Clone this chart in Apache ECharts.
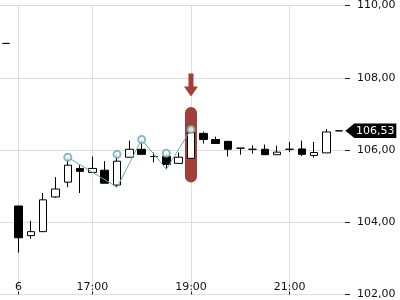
<!DOCTYPE html>
<html>
<head>
<meta charset="utf-8">
<script src="https://cdn.jsdelivr.net/npm/echarts@6/dist/echarts.min.js"></script>
<style>html,body{margin:0;padding:0;background:#fff}#c{width:400px;height:300px}</style>
</head>
<body>
<div id="c"></div>
<script>
// 15-minute bars
var categories = ['15:15','15:30','15:45','16:00','16:15','16:30','16:45','17:00','17:15','17:30','17:45','18:00','18:15','18:30','18:45','19:00','19:15','19:30','19:45','20:00','20:15','20:30','20:45','21:00','21:15','21:30','21:45','22:00'];
var opens  = [108.95,104.45,103.63,103.74,104.70,105.11,105.49,105.38,105.44,105.03,105.80,106.02,105.82,105.82,105.63,105.77,106.46,106.29,106.24,106.05,106.02,106.02,105.87,106.02,106.03,105.85,105.92,106.53];
var closes = [108.95,103.57,103.74,104.62,104.92,105.58,105.41,105.49,105.08,105.69,106.02,105.88,105.82,105.60,105.80,106.48,106.29,106.18,106.02,106.05,106.02,105.87,105.94,106.02,105.88,105.93,106.50,106.53];
var lows   = [108.95,103.16,103.54,103.74,104.67,104.97,104.81,105.38,105.08,104.97,105.80,105.88,105.66,105.47,105.63,105.77,106.18,106.18,105.82,105.87,105.90,105.87,105.87,105.94,105.83,105.79,105.92,106.53];
var highs  = [108.95,104.45,104.04,104.81,105.25,105.80,105.58,105.82,105.69,105.88,106.26,106.29,105.93,105.91,105.93,106.57,106.51,106.37,106.24,106.05,106.13,106.15,106.12,106.22,106.26,106.22,106.58,106.53];
// zigzag pattern points
var zigzagCats   = ['16:30','17:30','18:00','18:30','19:00'];
var zigzagValues = [105.80,104.97,106.29,105.47,106.57];
var circleCats   = ['16:30','17:30','18:00','18:30','19:00'];
var circleValues = [105.80,105.88,106.29,105.91,106.57];
// highlighted bar
var highlightCat = '19:00';
var highlightRange = [105.10, 107.19];
var arrowValue = 107.80;
// last price
var lastCat = '22:00';
var lastPrice = 106.53;
// axis ticks
var tickCats  = ['15:30','17:00','19:00','21:00'];
var tickTexts = ['6','17:00','19:00','21:00'];
var yTicks = [102, 104, 106, 108, 110];

function fmt(v){ return v.toFixed(2).replace('.', ','); }

var candleData = categories.map(function(c,i){ return [opens[i], closes[i], lows[i], highs[i]]; });
var zig = categories.map(function(c){ var k = zigzagCats.indexOf(c); return k < 0 ? '-' : zigzagValues[k]; });
var circ = categories.map(function(c){ var k = circleCats.indexOf(c); return k < 0 ? '-' : circleValues[k]; });
var hlBase = categories.map(function(c){ return c === highlightCat ? highlightRange[0] : '-'; });
var hlTop = categories.map(function(c){ return c === highlightCat ? +(highlightRange[1]-highlightRange[0]).toFixed(2) : '-'; });
var showTick = function(idx, val){ return tickCats.indexOf(val) >= 0; };

var RED = '#a13f38', TEAL = '#66aab3', GRID = '#dedede';

var chart = echarts.init(document.getElementById('c'), null, {renderer:'canvas'});
chart.setOption({
  animation: false,
  textStyle: {fontFamily: 'DejaVu Sans'},
  grid: {left: 0, right: 55, top: 3.5, bottom: 5, containLabel: false},
  xAxis: {
    type: 'category', data: categories, boundaryGap: true,
    axisLine: {show: false},
    axisTick: {show: true, inside: true, length: 3, alignWithLabel: true, interval: showTick, lineStyle: {color: '#222'}},
    axisLabel: {inside: true, margin: 2, interval: showTick, color: '#111', fontSize: 11,
      formatter: function(v){ var k = tickCats.indexOf(v); return k < 0 ? '' : tickTexts[k]; }},
    splitLine: {show: false}
  },
  yAxis: {
    type: 'value', position: 'right', min: yTicks[0], max: yTicks[yTicks.length-1], interval: 2, scale: true,
    axisLine: {show: false},
    axisTick: {show: true, length: 5, lineStyle: {color: '#222'}},
    axisLabel: {margin: 12, color: '#111', fontSize: 11, formatter: fmt},
    splitLine: {show: true, lineStyle: {color: GRID, width: 1}}
  },
  series: [
    {
      type: 'line', data: [], z: 0, silent: true,
      markLine: {silent: true, z: 0, zlevel: 0, symbol: ['none','none'], label: {show: false},
        lineStyle: {color: GRID, type: 'solid', width: 1},
        data: tickCats.map(function(c){ return {xAxis: c}; })}
    },
    {
      type: 'bar', stack: 'hl', data: hlBase, barWidth: 12, z: 1, silent: true,
      itemStyle: {color: 'rgba(0,0,0,0)'}
    },
    {
      type: 'bar', stack: 'hl', data: hlTop, barWidth: 12, z: 1, silent: true,
      itemStyle: {color: RED, borderRadius: 6},
      markPoint: {silent: true, z: 1,
        symbol: 'path://M4.5,0 L9.5,0 L9.5,13 L14,13 L7,23 L0,13 L4.5,13 Z',
        symbolSize: [14, 23], symbolKeepAspect: false,
        itemStyle: {color: RED}, label: {show: false},
        data: [{coord: [highlightCat, arrowValue]}]}
    },
    {
      type: 'candlestick', data: candleData, barWidth: 8, z: 3,
      itemStyle: {color: '#ffffff', color0: '#000000', borderColor: '#000000', borderColor0: '#000000', borderWidth: 1}
    },
    {
      type: 'line', data: zig, connectNulls: true, symbol: 'none', z: 4, silent: true,
      lineStyle: {color: TEAL, width: 1}
    },
    {
      type: 'scatter', data: circ, symbol: 'emptyCircle', symbolSize: 7, z: 4, silent: true,
      itemStyle: {color: TEAL, borderColor: TEAL, borderWidth: 1}
    },
    {
      type: 'line', data: [], z: 5, silent: true,
      markPoint: {silent: true,
        symbol: 'path://M0,7.25 L9,0 L51,0 L51,14.5 L9,14.5 Z',
        symbolSize: [51, 14.5], symbolKeepAspect: false, symbolOffset: [32, 0],
        itemStyle: {color: '#000'},
        label: {show: true, position: 'inside', offset: [4.5, 0], color: '#fff', fontSize: 11, fontFamily: 'DejaVu Sans', formatter: function(){ return fmt(lastPrice); }},
        data: [{coord: [lastCat, lastPrice]}]}
    }
  ]
});
</script>
</body>
</html>
